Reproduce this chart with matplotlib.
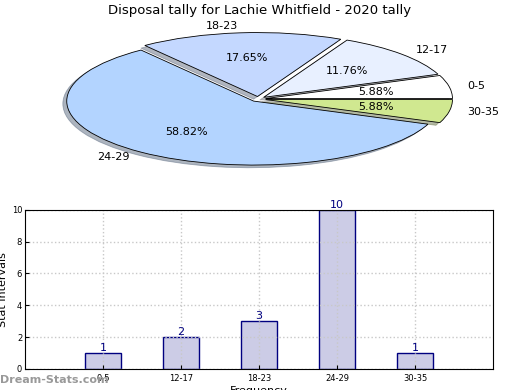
import numpy as np
import matplotlib
matplotlib.use('Agg')
import matplotlib.pyplot as plt

# data
intervals = ['0-5', '12-17', '18-23', '24-29', '30-35']
counts = [1, 2, 3, 10, 1]
pie_colors = ['#ffffff', '#e8f0ff', '#c4d8ff', '#b3d4ff', '#d0e890']

fig = plt.figure(figsize=(5.2, 3.9), dpi=100)

# squashed pie on top
ax1 = fig.add_axes([0.137, 0.582, 0.719, 0.328])
ax1.pie(counts, labels=intervals, colors=pie_colors, autopct='%.2f%%',
        explode=[0.04] * len(counts), startangle=0,
        shadow={'ox': -0.015, 'oy': -0.03, 'shade': 0.5},
        pctdistance=0.6, labeldistance=1.1,
        wedgeprops={'edgecolor': 'black', 'linewidth': 0.6},
        textprops={'fontsize': 8})
ax1.set_xlim(-1, 1)
ax1.set_ylim(-1, 1)
ax1.set_aspect('auto')
ax1.axis('off')
fig.text(0.5, 0.974, 'Disposal tally for Lachie Whitfield - 2020 tally',
         ha='center', va='center', fontsize=9.5)

# bar chart below
ax2 = fig.add_axes([0.048, 0.054, 0.9, 0.408])
x = np.arange(1, len(counts) + 1)
ax2.bar(x, counts, width=0.46, color='#ccccE6', edgecolor='#000080', linewidth=1)
for xi, c in zip(x, counts):
    ax2.text(xi, c, str(c), ha='center', va='bottom', color='#000080', fontsize=8)
ax2.set_xlim(0, 6)
ax2.set_ylim(0, 10)
ax2.set_xticks(x)
ax2.set_xticklabels(intervals, fontsize=6)
ax2.set_yticks(range(0, 11, 2))
ax2.tick_params(axis='y', labelsize=6, pad=2)
ax2.tick_params(direction='in', length=3)
ax2.grid(True, linestyle=':', color='#c8c8c8', linewidth=1)
ax2.set_ylabel('Stat Intervals', fontsize=8)
ax2.yaxis.set_label_coords(-0.036, 0.5)
ax2.set_xlabel('Frequency', fontsize=8, labelpad=2)

fig.text(0.0, 0.025, 'Dream-Stats.com', color='#999999', fontsize=8,
         fontweight='bold', ha='left', va='center')

fig.savefig('out.png', dpi=100)
